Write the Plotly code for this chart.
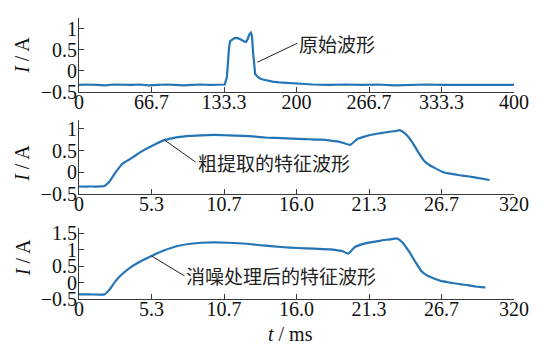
import plotly.graph_objects as go

# ---- data -------------------------------------------------------------
# raw current waveform (top panel)
t_raw = [0, 8, 16, 24, 32, 40, 48, 56, 64, 72, 80, 88, 96, 104, 112, 120, 128, 134,
         136, 137, 138, 139, 141, 143, 146, 149, 152, 153.5, 155, 156.5, 158, 159, 160, 161,
         162, 164, 166, 169, 173, 178, 184, 190, 197, 205, 215, 230, 245, 260, 275, 290,
         305, 320, 335, 350, 365, 380, 392, 400]
i_raw = [-0.34, -0.33, -0.34, -0.35, -0.33, -0.34, -0.34, -0.33, -0.35, -0.34, -0.33, -0.34,
         -0.35, -0.34, -0.33, -0.34, -0.34, -0.33,
         -0.15, 0.25, 0.55, 0.70, 0.74, 0.77, 0.77, 0.74, 0.69, 0.68, 0.74, 0.85, 0.90, 0.84,
         0.45, 0.05, -0.08, -0.14, -0.18, -0.21, -0.24, -0.26, -0.28, -0.29, -0.31, -0.32,
         -0.33, -0.34, -0.33, -0.34, -0.33, -0.35, -0.34, -0.33, -0.34, -0.34, -0.33, -0.34,
         -0.33, -0.34]

# coarsely extracted feature waveform (middle panel), t in ms
t_coarse = [0, 0.8, 1.87, 2.22, 2.7, 3.18, 3.9, 4.61, 5.57, 6.29,
            7.25, 8.2, 9.0, 10.0, 11.0, 12.0, 13.0, 13.7, 14.5, 15.3,
            16.1, 17.0, 17.8, 18.5, 19.0, 19.4, 19.95, 20.5, 21.0, 21.6,
            22.2, 22.8, 23.3, 23.6, 24.0, 24.5, 25.0, 25.4, 25.8, 26.1,
            26.8, 27.4, 28.0, 28.7, 29.3, 30.2]
i_coarse = [-0.33, -0.33, -0.32, -0.22, 0.0, 0.19, 0.33, 0.48, 0.64, 0.74,
            0.81, 0.84, 0.85, 0.86, 0.85, 0.84, 0.82, 0.80, 0.79, 0.78,
            0.77, 0.76, 0.75, 0.73, 0.71, 0.68, 0.63, 0.77, 0.82, 0.87,
            0.90, 0.93, 0.95, 0.97, 0.89, 0.70, 0.44, 0.26, 0.16, 0.11,
            0.0, -0.04, -0.07, -0.10, -0.13, -0.18]

# denoised feature waveform (bottom panel), t in ms
t_denoised = [0, 0.8, 1.87, 2.22, 2.7, 3.18, 3.9, 4.61, 5.33, 6.29,
              7.25, 8.2, 9.0, 9.9, 11.0, 12.3, 13.0, 13.7, 14.9, 16.1,
              17.3, 18.5, 19.0, 19.4, 19.8, 20.3, 20.8, 21.4, 22.0, 22.6,
              23.0, 23.4, 23.8, 24.3, 24.8, 25.2, 25.5, 25.9, 26.6, 27.3,
              28.0, 28.6, 29.2, 29.9]
i_denoised = [-0.36, -0.36, -0.36, -0.23, 0.05, 0.26, 0.49, 0.66, 0.81, 0.98,
              1.11, 1.18, 1.21, 1.22, 1.21, 1.18, 1.15, 1.12, 1.08, 1.05,
              1.03, 1.01, 0.98, 0.95, 0.88, 1.08, 1.16, 1.22, 1.26, 1.30,
              1.32, 1.34, 1.22, 0.93, 0.59, 0.34, 0.24, 0.16, 0.05, 0.0,
              -0.05, -0.08, -0.12, -0.15]

# tick labels
raw_tickvals = [0, 400 / 6, 800 / 6, 200, 1600 / 6, 2000 / 6, 400]
raw_ticktext = ["0", "66.7", "133.3", "200", "266.7", "333.3", "400"]
ms_tickvals = [0, 32 / 6, 64 / 6, 16, 128 / 6, 160 / 6, 32]
ms_ticktext = ["0", "5.3", "10.7", "16.0", "21.3", "26.7", "320"]
y_ticks_small = [-0.5, 0, 0.5, 1]
y_ticks_large = [-0.5, 0, 0.5, 1, 1.5]

labels = ["原始波形", "粗提取的特征波形", "消噪处理后的特征波形"]

# ---- figure -----------------------------------------------------------
BLUE = "#2474b6"
AXIS = "#3a3a3a"
SERIF = "Liberation Serif"
CJK = "Noto Sans CJK SC"

fig = go.Figure()
fig.add_trace(go.Scatter(x=t_raw, y=i_raw, mode="lines", xaxis="x", yaxis="y",
                         line=dict(color=BLUE, width=2.2)))
fig.add_trace(go.Scatter(x=t_coarse, y=i_coarse, mode="lines", xaxis="x2", yaxis="y2",
                         line=dict(color=BLUE, width=2.2, shape="spline", smoothing=0.5)))
fig.add_trace(go.Scatter(x=t_denoised, y=i_denoised, mode="lines", xaxis="x3", yaxis="y3",
                         line=dict(color=BLUE, width=2.2, shape="spline", smoothing=0.5)))

axis_common = dict(showline=True, linecolor=AXIS, linewidth=1, ticks="inside",
                   ticklen=5, tickwidth=1, tickcolor=AXIS, showgrid=False,
                   zeroline=False, tickfont=dict(family=SERIF, size=20, color="#111"))
x_common = dict(axis_common, ticklabelstandoff=-8)
y_common = dict(axis_common, ticklabelstandoff=-3)

fig.update_layout(
    width=541, height=344,
    margin=dict(l=79, r=16, t=13, b=45),
    paper_bgcolor="white", plot_bgcolor="white",
    showlegend=False,
    xaxis=dict(domain=[0, 1], anchor="y", range=[0, 400],
               tickvals=raw_tickvals, ticktext=raw_ticktext, **x_common),
    yaxis=dict(domain=[0.7378, 1.0], anchor="x", range=[-0.5, 1.25],
               tickvals=y_ticks_small, **y_common),
    xaxis2=dict(domain=[0, 1], anchor="y2", range=[0, 32],
                tickvals=ms_tickvals, ticktext=ms_ticktext, **x_common),
    yaxis2=dict(domain=[0.3741, 0.6364], anchor="x2", range=[-0.5, 1.2],
                tickvals=y_ticks_small, **y_common),
    xaxis3=dict(domain=[0, 1], anchor="y3", range=[0, 32],
                tickvals=ms_tickvals, ticktext=ms_ticktext, **x_common),
    yaxis3=dict(domain=[0, 0.2517], anchor="x3", range=[-0.5, 1.65],
                tickvals=y_ticks_large, **y_common),
)

# y-axis titles
for yc in [0.867, 0.4825, 0.147]:
    fig.add_annotation(text="<i>I</i> / A", xref="paper", yref="paper",
                       x=-0.130, y=yc, textangle=-90, showarrow=False,
                       xanchor="center", yanchor="middle",
                       font=dict(family=SERIF, size=20, color="#111"))

# x-axis title
fig.add_annotation(text="<i>t</i> / ms", xref="paper", yref="paper",
                   x=0.4865, y=-0.126, showarrow=False,
                   xanchor="center", yanchor="middle",
                   font=dict(family=SERIF, size=20, color="#111"))

# labelled leader lines pointing at each waveform
callouts = [
    ("x", "y", 164, 0.2, 40, -19, labels[0]),
    ("x2", "y2", 6.3, 0.74, 31, 22, labels[1]),
    ("x3", "y3", 5.33, 0.81, 33, 20, labels[2]),
]
for xr, yr, hx, hy, ax, ay, txt in callouts:
    fig.add_annotation(text=txt, xref=xr, yref=yr, x=hx, y=hy,
                       ax=ax, ay=ay, axref="pixel", ayref="pixel",
                       xanchor="left", yanchor="middle",
                       showarrow=True, arrowhead=0, arrowwidth=1,
                       arrowcolor="#222", standoff=0, startstandoff=0,
                       font=dict(family=CJK, size=19, color="#222"))

fig.write_html("out.html")
